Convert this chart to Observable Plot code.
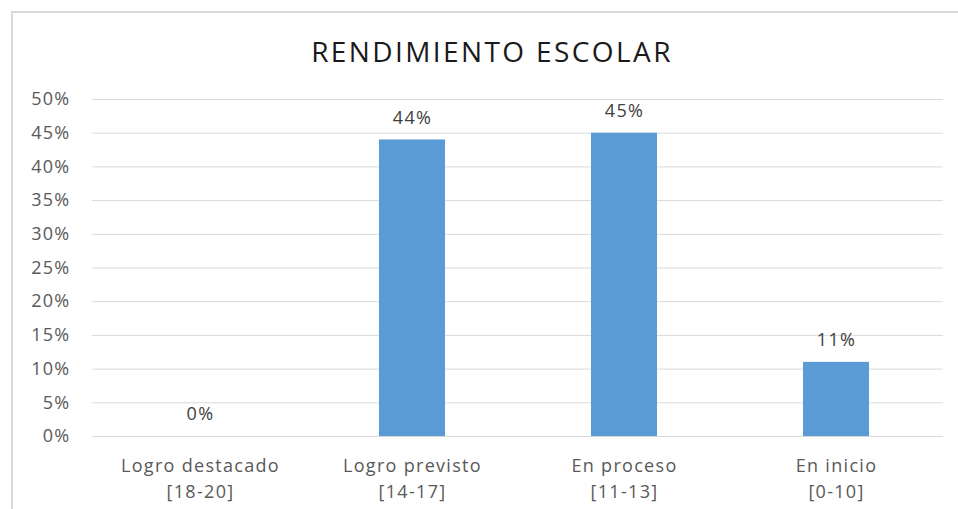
<!DOCTYPE html>
<html>
<head>
<meta charset="utf-8">
<script src="https://cdn.jsdelivr.net/npm/d3@7"></script>
<script src="https://cdn.jsdelivr.net/npm/@observablehq/plot@0.6"></script>
<style>
  body { margin: 0; background: #fff; width: 958px; height: 509px; overflow: hidden; position: relative; font-family: "Open Sans", sans-serif; }
  #frame { position: absolute; left: 11px; top: 11px; width: 980px; height: 530px; border: 2px solid #d9d9d9; box-sizing: border-box; }
  #title { position: absolute; left: 13px; width: 958px; top: 32px; text-align: center; font-size: 28px; letter-spacing: 2.4px; color: #1a1a1a; line-height: 38px; }
  #chart { position: absolute; left: 0; top: 70px; }
  #chart svg text { letter-spacing: 1.3px; }
</style>
</head>
<body>
<div id="frame"></div>
<div id="title">RENDIMIENTO ESCOLAR</div>
<div id="chart"></div>
<script>
const categories = ["Logro destacado\n[18-20]", "Logro previsto\n[14-17]", "En proceso\n[11-13]", "En inicio\n[0-10]"];
const values = [0, 0.44, 0.45, 0.11];
const yTicks = [0, 0.05, 0.10, 0.15, 0.20, 0.25, 0.30, 0.35, 0.40, 0.45, 0.50];

const data = categories.map((c, i) => ({category: c, value: values[i]}));

const chart = Plot.plot({
  width: 958,
  height: 439,
  marginTop: 29,
  marginBottom: 73,
  marginLeft: 92,
  marginRight: 15,
  style: {fontFamily: "Open Sans, sans-serif", background: "transparent"},
  x: {domain: categories, paddingInner: 0.69, paddingOuter: 0.345, label: null},
  y: {domain: [0, 0.5], label: null},
  marks: [
    Plot.gridY(yTicks, {stroke: "#d9d9d9", strokeOpacity: 1, strokeWidth: 1}),
    Plot.axisY(yTicks, {tickSize: 0, tickPadding: 22, tickFormat: d => Math.round(d * 100) + "%", fontSize: 18, fill: "#595959", label: null}),
    Plot.axisX({tickSize: 0, tickPadding: 18, fontSize: 18, fill: "#595959", lineHeight: 1.4, label: null}),
    Plot.barY(data, {x: "category", y: "value", fill: "#5b9bd5"}),
    Plot.text(data, {x: "category", y: "value", text: d => Math.round(d.value * 100) + "%", dy: -22, fontSize: 18, fill: "#404040"})
  ]
});
document.getElementById("chart").appendChild(chart);
</script>
</body>
</html>
